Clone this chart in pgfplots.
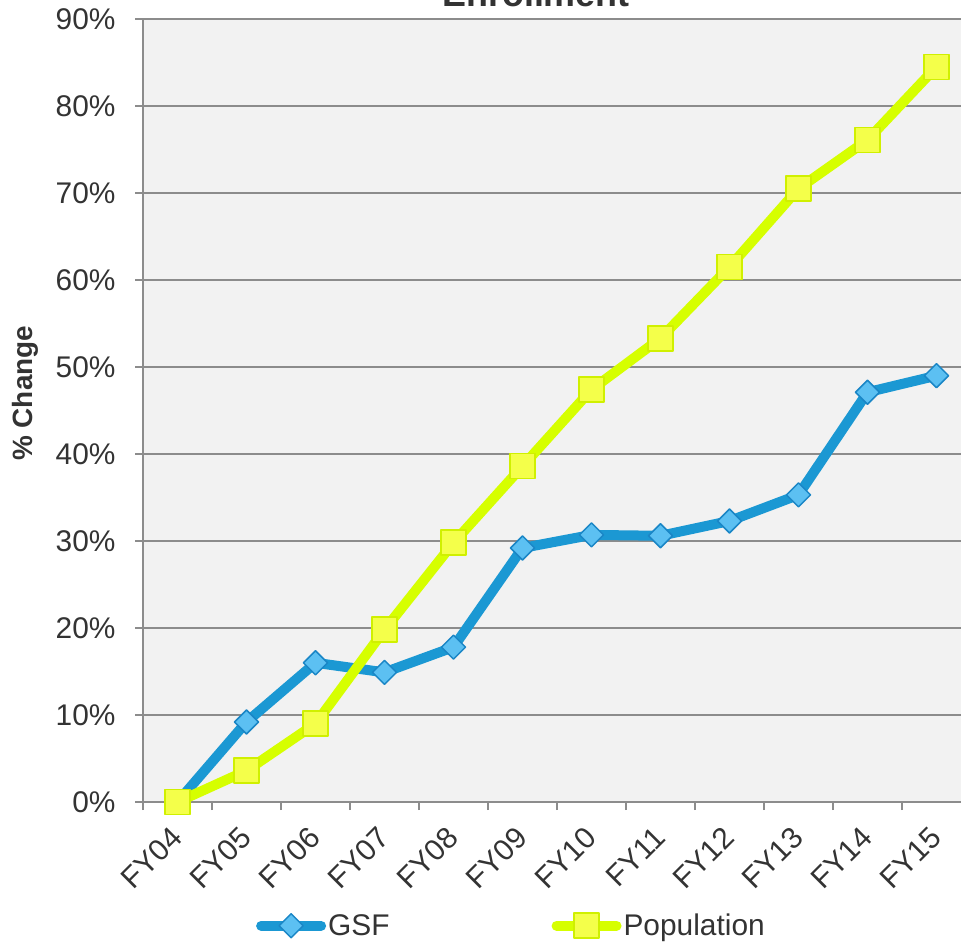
\documentclass[border=0pt]{standalone}
\usepackage{fontspec}
\setmainfont{Liberation Sans}
\usepackage{pgfplots}
\pgfplotsset{compat=1.18}
\definecolor{bgc}{HTML}{F2F2F2}
\definecolor{gridc}{HTML}{8C8C8C}
\definecolor{txt}{HTML}{333333}
\definecolor{gsfline}{HTML}{1B98D3}
\definecolor{gsffill}{HTML}{5CC0F2}
\definecolor{gsfdraw}{HTML}{1A86C6}
\definecolor{popline}{HTML}{D6FF00}
\definecolor{popfill}{HTML}{F4FF4A}
\definecolor{popdraw}{HTML}{D0F000}
\begin{document}
\begin{tikzpicture}
\useasboundingbox (-143bp,-144bp) rectangle (818bp,802bp);
\begin{axis}[
  scale only axis,
  width=828bp, height=783bp,
  xmin=-0.5, xmax=11.5,
  ymin=0, ymax=90,
  clip=false,
  axis lines*=left,
  axis line style={gridc, line width=2bp},
  axis background/.style={fill=bgc},
  ymajorgrids,
  grid style={gridc, line width=2bp},
  ytick={0,10,...,90},
  yticklabel={\pgfmathprintnumber{\tick}\%},
  xtick={0,...,11},
  xticklabels={FY04,FY05,FY06,FY07,FY08,FY09,FY10,FY11,FY12,FY13,FY14,FY15},
  minor xtick={-0.5,0.5,...,11.5},
  tick align=outside,
  major tick length=8bp,
  minor tick length=8bp,
  tick style={gridc, line width=2bp},
  major x tick style={draw=none},
  tick label style={font=\fontsize{30}{36}\selectfont, text=txt},
  /pgf/number format/assume math mode=true,
  yticklabel style={xshift=-16bp},
  xticklabel style={xshift=-8bp, yshift=-10bp, rotate=45, anchor=north east},
  ylabel={\textbf{\% Change}},
  ylabel style={font=\fontsize{28}{34}\selectfont, text=txt, at={(axis description cs:-0.1425,0.522)}, anchor=center},
  legend columns=2,
  legend style={draw=none, fill=none, at={(axis description cs:0.445,-0.158)}, anchor=center,
    font=\fontsize{30}{36}\selectfont, text=txt,
    /tikz/every even column/.append style={column sep=160bp}},
  legend image code/.code={\draw[mark repeat=2, mark phase=2, #1] plot coordinates {(0bp,0bp) (30bp,0bp) (60bp,0bp)};},
]
\addplot[gsfline, line width=10bp, line cap=round, line join=round, mark=square*, mark size=8.5bp,
  mark options={rotate=45, fill=gsffill, draw=gsfdraw, line width=1.5bp}]
  coordinates {(0,0) (1,9.2) (2,16.0) (3,14.9) (4,17.8) (5,29.2) (6,30.7) (7,30.6) (8,32.3) (9,35.3) (10,47.1) (11,49.0)};
\addlegendentry{GSF}
\addplot[popline, line width=10bp, line cap=round, line join=round, mark=square*, mark size=12.5bp,
  mark options={fill=popfill, draw=popdraw, line width=1.5bp}]
  coordinates {(0,0) (1,3.6) (2,9.0) (3,19.8) (4,29.8) (5,38.6) (6,47.4) (7,53.3) (8,61.5) (9,70.5) (10,76.1) (11,84.5)};
\addlegendentry{Population}
\end{axis}
\node[font=\bfseries\fontsize{36}{42}\selectfont, text=txt, anchor=base] at (393bp,795bp) {Enrollment};
\end{tikzpicture}
\end{document}
